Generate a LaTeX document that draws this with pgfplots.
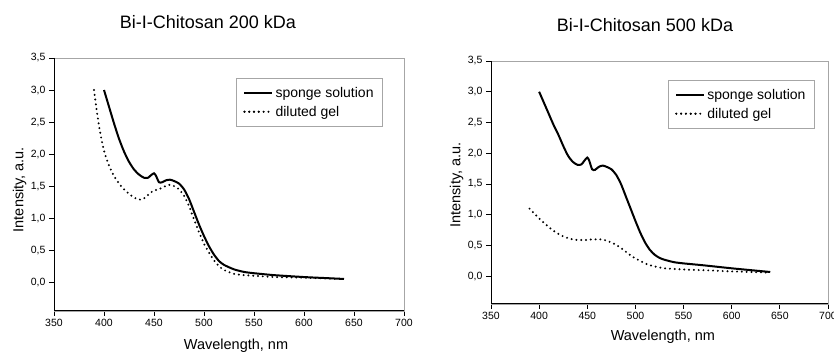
\documentclass[border=0pt]{standalone}
\usepackage{pgfplots}
\pgfplotsset{compat=1.18}
\usepackage{fontspec}
\setmainfont{Liberation Sans}

\pgfplotstableread{
x y
400 3.00
405 2.74
410 2.48
415 2.24
420 2.04
425 1.88
430 1.76
435 1.68
440 1.63
444 1.63
447 1.67
450 1.70
452 1.66
455 1.56
458 1.56
462 1.59
466 1.60
470 1.58
475 1.54
480 1.45
485 1.30
490 1.10
495 0.90
500 0.72
505 0.56
510 0.43
515 0.33
520 0.27
530 0.20
540 0.16
550 0.14
570 0.11
600 0.08
620 0.065
640 0.05
}\spongeA

\pgfplotstableread{
x y
390 3.00
393 2.65
396 2.35
400 2.05
405 1.82
410 1.66
415 1.54
420 1.45
425 1.38
430 1.32
435 1.29
438 1.29
442 1.33
446 1.39
450 1.43
455 1.45
460 1.49
465 1.52
470 1.50
475 1.45
480 1.35
485 1.19
490 0.98
495 0.78
500 0.60
505 0.46
510 0.34
515 0.25
520 0.19
530 0.13
540 0.11
550 0.10
570 0.08
600 0.07
640 0.05
}\gelA

\pgfplotstableread{
x y
400 3.00
405 2.82
410 2.64
415 2.46
420 2.30
425 2.12
430 1.96
435 1.86
440 1.81
444 1.82
447 1.88
450 1.93
452 1.88
455 1.74
458 1.73
462 1.78
466 1.80
470 1.78
475 1.74
480 1.65
485 1.50
490 1.30
495 1.10
500 0.90
505 0.71
510 0.55
515 0.43
520 0.35
525 0.30
530 0.27
540 0.23
550 0.21
570 0.18
600 0.13
620 0.10
640 0.07
}\spongeB

\pgfplotstableread{
x y
390 1.10
395 1.02
400 0.94
405 0.87
410 0.80
415 0.74
420 0.69
425 0.65
430 0.62
435 0.60
440 0.59
445 0.59
450 0.59
455 0.60
460 0.60
465 0.60
470 0.58
475 0.55
480 0.51
485 0.46
490 0.40
495 0.34
500 0.29
505 0.25
510 0.21
515 0.18
520 0.16
530 0.13
540 0.12
550 0.11
570 0.10
600 0.08
620 0.07
640 0.06
}\gelB

\pgfplotsset{
  specstyle/.style={
    scale only axis,
    xmin=350, xmax=700,
    ymin=-0.45, ymax=3.5,
    xtick={350,400,...,700},
    ytick={0,0.5,...,3.5},
    /pgf/number format/assume math mode=true,
    yticklabel style={/pgf/number format/.cd, fixed, fixed zerofill, precision=1, use comma},
    xticklabel style={/pgf/number format/.cd, fixed, precision=0},
    tick label style={font=\fontsize{10.5}{12}\selectfont},
    xtick pos=lower, ytick pos=left,
    tick align=outside,
    major tick length=5pt,
    tick style={black, line width=0.8pt},
    axis line style={gray!70, line width=0.6pt},
    label style={font=\fontsize{14.5}{17}\selectfont},
    legend cell align=left,
    legend image code/.code={\draw[#1] (0pt,0pt) -- (23pt,0pt); \path (0pt,0pt) -- (28pt,0pt);},
    legend style={draw=gray!70, line width=0.6pt, font=\fontsize{14}{16}\selectfont,
                  inner xsep=7pt, inner ysep=7pt, row sep=3pt, anchor=north west},
  },
  solidline/.style={black, line width=2pt, smooth, tension=0.4},
  dotline/.style={black, line width=2.2pt, line cap=round, dash pattern=on 0pt off 4.8pt, smooth, tension=0.4},
}

\begin{document}
\begin{tikzpicture}[x=1pt,y=1pt]
\begin{axis}[specstyle,
  at={(54pt,41pt)}, anchor=south west,
  width=350pt, height=253pt,
  xlabel={Wavelength, nm}, ylabel={Intensity, a.u.},
  xlabel style={at={(axis description cs:0.52,0)}, anchor=north, yshift=-24pt},
  ylabel style={at={(axis description cs:0,0.48)}, anchor=south, yshift=24pt},
  legend style={at={(axis description cs:0.52,0.921)}},
]
\addplot[solidline] table[x=x,y=y] {\spongeA};
\addlegendentry{sponge solution}
\addplot[dotline] table[x=x,y=y] {\gelA};
\addlegendentry{diluted gel}
\draw[black, line width=1pt] (axis description cs:0,1) -- (axis description cs:0,0) -- (axis description cs:1,0);
\end{axis}
\node[font=\fontsize{18}{21}\selectfont] at (208pt,330pt) {Bi-I-Chitosan 200 kDa};

\begin{axis}[specstyle,
  at={(491pt,48pt)}, anchor=south west,
  width=337pt, height=243pt,
  xlabel={Wavelength, nm}, ylabel={Intensity, a.u.},
  xlabel style={at={(axis description cs:0.51,0)}, anchor=north, yshift=-22pt},
  ylabel style={at={(axis description cs:0,0.49)}, anchor=south, yshift=24pt},
  legend style={at={(axis description cs:0.525,0.922)}},
]
\addplot[solidline] table[x=x,y=y] {\spongeB};
\addlegendentry{sponge solution}
\addplot[dotline] table[x=x,y=y] {\gelB};
\addlegendentry{diluted gel}
\draw[black, line width=1pt] (axis description cs:0,1) -- (axis description cs:0,0) -- (axis description cs:1,0);
\end{axis}
\node[font=\fontsize{18}{21}\selectfont] at (645pt,327pt) {Bi-I-Chitosan 500 kDa};

\pgfresetboundingbox
\path[use as bounding box] (0pt,0pt) rectangle (834pt,352pt);
\end{tikzpicture}
\end{document}
